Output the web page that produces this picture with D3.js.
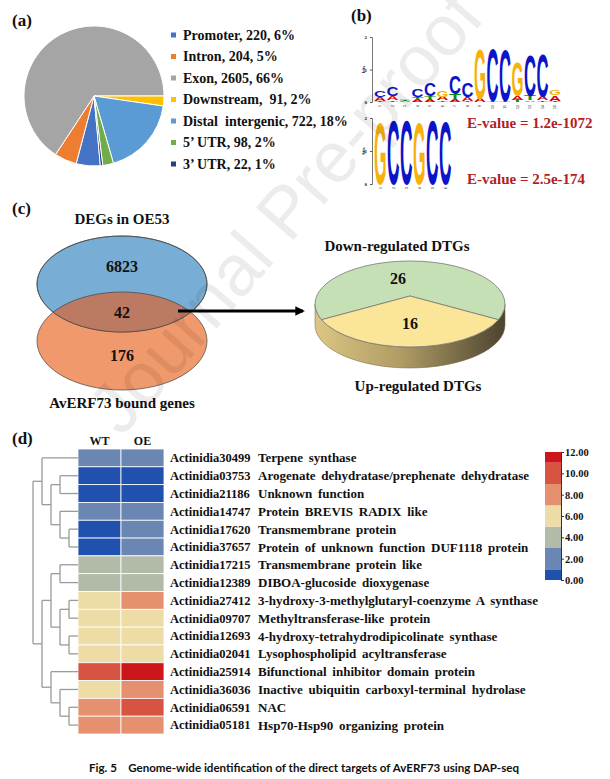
<!DOCTYPE html>
<html><head><meta charset="utf-8">
<script src="https://cdn.jsdelivr.net/npm/d3@7"></script>
<style>
body{margin:0;background:#fff}
svg{display:block}
text{font-family:"Liberation Serif","Times New Roman",serif;font-weight:bold;fill:#111}
</style>
</head><body>
<svg id="fig" width="610" height="779"></svg>
<script>
// ---------------- DATA ----------------
// (a) genomic distribution of peaks
const pieCategories = ["Promoter", "Intron", "Exon", "Downstream", "Distal  intergenic", "5\u2019 UTR", "3\u2019 UTR"];
const pieCounts = [220, 204, 2605, 91, 722, 98, 22];
const piePercents = [6, 5, 66, 2, 18, 2, 1];

// (b) motifs: per position, stacked [letter, bits] from bottom to top
const motif1 = [
  [["T",0.04],["A",0.1],["C",0.2]],
  [["T",0.05],["A",0.12],["C",0.3]],
  [["A",0.03],["T",0.03],["G",0.04]],
  [["A",0.06],["T",0.08],["C",0.24]],
  [["A",0.07],["T",0.1],["C",0.42]],
  [["T",0.05],["A",0.1],["G",0.2]],
  [["A",0.06],["T",0.18],["C",0.58]],
  [["T",0.04],["A",0.12],["C",0.44]],
  [["A",0.1],["G",1.55]],
  [["T",0.03],["C",1.66]],
  [["T",0.04],["C",1.6]],
  [["T",0.06],["A",0.12],["G",1.05]],
  [["A",0.05],["T",0.14],["C",1.26]],
  [["T",0.05],["A",0.1],["C",1.35]],
  [["T",0.03],["A",0.18],["G",0.16]]
];
const motif2 = [
  [["G",1.92]], [["C",1.97]], [["C",1.97]], [["G",1.9]], [["C",1.97]], [["C",1.95]]
];
const eValues = ["1.2e-1072", "2.5e-174"];

// (c) Venn + DTG pie
const vennSets = ["DEGs in OE53", "AvERF73 bound genes"];
const vennCounts = [6823, 42, 176];   // only DEGs, overlap, only bound
const dtgCategories = ["Down-regulated DTGs", "Up-regulated DTGs"];
const dtgCounts = [26, 16];

// (d) heatmap
const sampleNames = ["WT", "OE"];
const geneIds = ["Actinidia30499","Actinidia03753","Actinidia21186","Actinidia14747","Actinidia17620","Actinidia37657",
  "Actinidia17215","Actinidia12389","Actinidia27412","Actinidia09707","Actinidia12693","Actinidia02041",
  "Actinidia25914","Actinidia36036","Actinidia06591","Actinidia05181"];
const geneDescriptions = ["Terpene synthase","Arogenate dehydratase/prephenate dehydratase","Unknown function",
  "Protein BREVIS RADIX like","Transmembrane protein","Protein of unknown function DUF1118 protein",
  "Transmembrane protein like","DIBOA-glucoside dioxygenase","3-hydroxy-3-methylglutaryl-coenzyme A synthase",
  "Methyltransferase-like protein","4-hydroxy-tetrahydrodipicolinate synthase","Lysophospholipid acyltransferase",
  "Bifunctional inhibitor domain protein","Inactive ubiquitin carboxyl-terminal hydrolase","NAC",
  "Hsp70-Hsp90 organizing protein"];
const wtValues = [2.1, 0.5, 0.5, 2.1, 0.6, 0.6, 4.0, 4.0, 6.0, 6.0, 6.0, 6.0, 10.0, 6.0, 8.0, 8.0];
const oeValues = [2.0, 0.5, 0.5, 2.0, 2.0, 2.0, 4.0, 4.0, 8.0, 6.0, 6.0, 6.0, 11.6, 8.0, 10.0, 8.0];
const colorbarTicks = [0, 2, 4, 6, 8, 10, 12];
const colorThresholds = [1, 3, 5, 7, 9, 11];
// dendrogram (leaf = row index, h = merge height)
const dendrogram = {h:5, children:[
  {h:4, children:[{leaf:0}, {h:3, children:[
      {h:2, children:[{leaf:1},{leaf:2}]},
      {h:2, children:[{leaf:3},{h:1, children:[{leaf:4},{leaf:5}]}]}]}]},
  {h:4, children:[
      {h:3, children:[
        {h:2, children:[{leaf:6},{leaf:7}]},
        {h:2, children:[{h:1, children:[{leaf:8},{leaf:9}]},{h:1, children:[{leaf:10},{leaf:11}]}]}]},
      {h:3, children:[{leaf:12},{h:2, children:[{leaf:13},{h:1, children:[{leaf:14},{leaf:15}]}]}]}]}
]};

const caption = "Fig. 5    Genome-wide identification of the direct targets of AvERF73 using DAP-seq";

// ---------------- STYLES ----------------
const pieColors = ["#4472C4","#ED7D31","#A5A5A5","#FFC000","#5B9BD5","#70AD47","#264478"];
const letterColors = {A:"#D40000", C:"#0A14C8", G:"#F7B10A", T:"#0A8A0A"};
const glyphAdv = {A:0.722, C:0.722, G:0.778, T:0.611};
const heatColors = ["#2151AE","#6A86B3","#B2BAA8","#EEDCA6","#E5906F","#D65441","#CC161A"];

const svg = d3.select("#fig");
const serif = "'Liberation Serif','Times New Roman',serif";
const defs = svg.append("defs");

// ---------------- (a) PIE ----------------
const gA = svg.append("g");
gA.append("text").attr("x", 12).attr("y", 26).attr("font-size", 17).text("(a)");
const total = d3.sum(pieCounts);
const before = d3.sum(pieCounts.slice(0, 3)) / total * 2 * Math.PI;
const start = Math.PI / 2 - before;
const pie = d3.pie().sort(null).startAngle(start).endAngle(start + 2 * Math.PI);
const arc = d3.arc().innerRadius(0).outerRadius(70);
gA.append("g").attr("transform", "translate(94,96)")
  .selectAll("path").data(pie(pieCounts)).join("path")
  .attr("d", arc).attr("fill", (d, i) => pieColors[i])
  .attr("stroke", "#fff").attr("stroke-width", 1);
const legY = d3.scalePoint().domain(pieCategories).range([35, 164]);
const leg = gA.selectAll("g.leg").data(pieCategories).join("g").attr("class", "leg")
  .attr("transform", d => `translate(171,${legY(d)})`);
leg.append("rect").attr("x", 0).attr("y", -2.5).attr("width", 5).attr("height", 5)
  .attr("fill", (d, i) => pieColors[i]);
leg.append("text").attr("x", 12).attr("dy", "0.35em").attr("font-size", 14).style("white-space", "pre")
  .text((d, i) => `${d}, ${i === 3 ? " " : ""}${pieCounts[i]}, ${piePercents[i]}%`);

// ---------------- (b) LOGOS ----------------
const gB = svg.append("g");
gB.append("text").attr("x", 351).attr("y", 21).attr("font-size", 17).text("(b)");

function drawLogo(g, data, x0, colW, yTop, yBase) {
  const xs = d3.scaleBand().domain(d3.range(1, data.length + 1)).range([x0, x0 + colW * data.length]);
  const ys = d3.scaleLinear().domain([0, 2]).range([yBase, yTop]);
  const ax = g.append("g").attr("transform", `translate(${x0 - 2},0)`)
    .call(d3.axisLeft(ys).tickValues([0, 1, 2]).tickSize(2).tickFormat(d3.format("d")));
  ax.select(".domain").attr("stroke", "#555").attr("stroke-width", 0.8);
  ax.selectAll(".tick line").attr("stroke", "#555");
  ax.selectAll("text").attr("font-size", 5).attr("font-family", "Liberation Sans").attr("font-weight", "normal").attr("fill", "#444");
  g.append("text").attr("transform", `translate(${x0 - 9},${(yTop + yBase) / 2}) rotate(-90)`)
    .attr("text-anchor", "middle").attr("font-size", 4.5).attr("font-family", "Liberation Sans")
    .attr("font-weight", "normal").attr("fill", "#444").text("bits");
  data.forEach((stack, i) => {
    let y = ys(0);
    const x = xs(i + 1);
    stack.forEach(([L, bits]) => {
      const h = ys(0) - ys(bits);
      const w = xs.bandwidth() - 0.5;
      g.append("text").text(L)
        .attr("transform", `translate(${x},${y}) scale(${w / (glyphAdv[L] * 100)},${h / 72})`)
        .attr("font-size", 100)
        .style("font-family", "'Liberation Sans',Arial,sans-serif").style("fill", letterColors[L]);
      y -= h;
    });
    g.append("text").attr("transform", `translate(${x + xs.bandwidth() / 2 + 1},${yBase + 3}) rotate(-90)`)
      .attr("text-anchor", "end").attr("font-size", 3.5).attr("font-weight", "normal")
      .style("font-family", "'Liberation Sans',sans-serif").style("fill", "#666").text(i + 1);
  });
}
drawLogo(gB.append("g"), motif1, 374, 12.5, 37, 102);
drawLogo(gB.append("g"), motif2, 374, 13, 118, 184);
gB.selectAll("text.ev").data(eValues).join("text").attr("class", "ev")
  .attr("x", 467).attr("y", (d, i) => i === 0 ? 128 : 184)
  .attr("font-size", 15).style("fill", "#B41E22").text(d => `E-value = ${d}`);

// ---------------- (c) VENN + 3D PIE ----------------
const gC = svg.append("g");
gC.append("text").attr("x", 12).attr("y", 214).attr("font-size", 17).text("(c)");
const vx = 122, vBlueY = 284, vOrY = 341, vrx = 85, vry1 = 48, vry2 = 49;
defs.append("clipPath").attr("id", "blueClip").append("ellipse")
  .attr("cx", vx).attr("cy", vBlueY).attr("rx", vrx).attr("ry", vry1);
gC.append("ellipse").attr("cx", vx).attr("cy", vOrY).attr("rx", vrx).attr("ry", vry2)
  .attr("fill", "#F0996C").attr("stroke", "#444").attr("stroke-width", 0.7);
gC.append("ellipse").attr("cx", vx).attr("cy", vBlueY).attr("rx", vrx).attr("ry", vry1)
  .attr("fill", "#78AED5").attr("stroke", "#444").attr("stroke-width", 0.7);
gC.append("ellipse").attr("cx", vx).attr("cy", vOrY).attr("rx", vrx).attr("ry", vry2)
  .attr("clip-path", "url(#blueClip)").attr("fill", "#BC7A62").attr("stroke", "#444").attr("stroke-width", 0.7);
gC.append("ellipse").attr("cx", vx).attr("cy", vBlueY).attr("rx", vrx).attr("ry", vry1)
  .attr("fill", "none").attr("stroke", "#444").attr("stroke-width", 0.7);
gC.append("text").attr("x", vx).attr("y", 224).attr("text-anchor", "middle").attr("font-size", 15).text(vennSets[0]);
gC.append("text").attr("x", vx).attr("y", 408).attr("text-anchor", "middle").attr("font-size", 15).text(vennSets[1]);
[[vennCounts[0], 272], [vennCounts[1], 318], [vennCounts[2], 361]].forEach(([v, y]) => {
  gC.append("text").attr("x", vx).attr("y", y).attr("text-anchor", "middle").attr("font-size", 16).text(v);
});
// arrow
defs.append("marker").attr("id", "arrowHead").attr("viewBox", "0 0 10 10").attr("refX", 8).attr("refY", 5)
  .attr("markerWidth", 3.2).attr("markerHeight", 3.2).attr("orient", "auto")
  .append("path").attr("d", "M0,0 L10,5 L0,10 Z").attr("fill", "#000");
gC.append("line").attr("x1", 178).attr("y1", 311).attr("x2", 303).attr("y2", 311)
  .attr("stroke", "#000").attr("stroke-width", 3).attr("marker-end", "url(#arrowHead)");

// 3D pie (top face with perspective-shifted apex)
const pcx = 410, pcy = 304, prx = 95, pry = 43, pdepth = 21, apexY = 296;
const grad = defs.append("linearGradient").attr("id", "sideGrad").attr("x1", "0").attr("x2", "1").attr("y1", "0").attr("y2", "0");
grad.append("stop").attr("offset", "0%").attr("stop-color", "#DCC682");
grad.append("stop").attr("offset", "45%").attr("stop-color", "#B09C64");
grad.append("stop").attr("offset", "100%").attr("stop-color", "#4C4430");
gC.append("path")
  .attr("d", `M${pcx + prx},${pcy} A${prx},${pry} 0 0 1 ${pcx - prx},${pcy} L${pcx - prx},${pcy + pdepth} A${prx},${pry} 0 0 0 ${pcx + prx},${pcy + pdepth} Z`)
  .attr("fill", "url(#sideGrad)").attr("stroke", "#6a6040").attr("stroke-width", 0.5);
const half = Math.PI * dtgCounts[0] / d3.sum(dtgCounts);
const dtgPie = d3.pie().sort(null).startAngle(-half).endAngle(2 * Math.PI - half);
const rim = a => [pcx + prx * Math.sin(a), pcy - pry * Math.cos(a)];
gC.append("g").selectAll("path").data(dtgPie(dtgCounts)).join("path")
  .attr("d", d => {
    const p0 = rim(d.startAngle), p1 = rim(d.endAngle);
    const large = d.endAngle - d.startAngle > Math.PI ? 1 : 0;
    return `M${pcx},${apexY}L${p0[0]},${p0[1]}A${prx},${pry} 0 ${large} 1 ${p1[0]},${p1[1]}Z`;
  })
  .attr("fill", (d, i) => i === 0 ? "#C6E0B5" : "#FBE598")
  .attr("stroke", "#777").attr("stroke-width", 0.8).attr("stroke-linejoin", "round");
gC.append("text").attr("x", 398).attr("y", 284).attr("text-anchor", "middle").attr("font-size", 16).text(dtgCounts[0]);
gC.append("text").attr("x", 410).attr("y", 329).attr("text-anchor", "middle").attr("font-size", 16).text(dtgCounts[1]);
gC.append("text").attr("x", 397).attr("y", 251).attr("text-anchor", "middle").attr("font-size", 15).text(dtgCategories[0]);
gC.append("text").attr("x", 418).attr("y", 391).attr("text-anchor", "middle").attr("font-size", 15).text(dtgCategories[1]);

// ---------------- (d) HEATMAP ----------------
const gD = svg.append("g");
gD.append("text").attr("x", 12).attr("y", 444).attr("font-size", 17).text("(d)");
const yRow = d3.scaleBand().domain(geneIds).range([449, 734]);
const xCol = d3.scaleBand().domain(sampleNames).range([78, 164]);
const color = d3.scaleThreshold().domain(colorThresholds).range(heatColors);
const cells = [];
geneIds.forEach((g, i) => { cells.push({g, s: "WT", v: wtValues[i]}); cells.push({g, s: "OE", v: oeValues[i]}); });
gD.append("g").selectAll("rect").data(cells).join("rect")
  .attr("x", d => xCol(d.s)).attr("y", d => yRow(d.g))
  .attr("width", xCol.bandwidth()).attr("height", yRow.bandwidth())
  .attr("fill", d => color(d.v)).attr("stroke", "#fff").attr("stroke-width", 0.8);
gD.selectAll("text.samp").data(sampleNames).join("text").attr("class", "samp")
  .attr("x", d => xCol(d) + xCol.bandwidth() / 2).attr("y", 445).attr("text-anchor", "middle")
  .attr("font-size", 12).text(d => d);
gD.selectAll("text.gid").data(geneIds).join("text").attr("class", "gid")
  .attr("x", 170).attr("y", d => yRow(d) + yRow.bandwidth() / 2).attr("dy", "0.35em")
  .attr("font-size", 12.5).text(d => d);
gD.selectAll("text.gdesc").data(geneDescriptions).join("text").attr("class", "gdesc")
  .attr("x", 258).attr("y", (d, i) => yRow(geneIds[i]) + yRow.bandwidth() / 2).attr("dy", "0.35em")
  .attr("font-size", 13).style("word-spacing", "2.5px").text(d => d);

// dendrogram
const root = d3.hierarchy(dendrogram);
const xDend = d3.scaleLinear().domain([0, 5]).range([78, 33]);
root.eachAfter(n => {
  if (n.data.leaf !== undefined) { n.py = yRow(geneIds[n.data.leaf]) + yRow.bandwidth() / 2; n.px = xDend(0); }
  else {
    n.py = (n.children[0].py + n.children[n.children.length - 1].py) / 2;
    n.px = xDend(n.data.h);
  }
});
const dendG = gD.append("g").attr("fill", "none").attr("stroke", "#9a9a9a").attr("stroke-width", 1.3);
root.each(n => {
  if (!n.children) return;
  const ys = n.children.map(c => c.py);
  dendG.append("path").attr("d", `M${n.px},${d3.min(ys)}V${d3.max(ys)}`);
  n.children.forEach(c => dendG.append("path").attr("d", `M${n.px},${c.py}H${c.px}`));
});

// colorbar
const yBar = d3.scaleLinear().domain([0, 12]).range([580, 452]);
const bandEdges = [0, ...colorThresholds, 12];
gD.append("g").selectAll("rect").data(heatColors).join("rect")
  .attr("x", 545).attr("width", 16)
  .attr("y", (d, i) => yBar(bandEdges[i + 1])).attr("height", (d, i) => yBar(bandEdges[i]) - yBar(bandEdges[i + 1]))
  .attr("fill", d => d);
const cb = gD.append("g").attr("transform", "translate(561,0)")
  .call(d3.axisRight(yBar).tickValues(colorbarTicks).tickSize(3).tickFormat(d3.format(".2f")));
cb.select(".domain").attr("stroke", "#333");
cb.selectAll(".tick line").attr("stroke", "#333");
cb.selectAll("text").attr("font-size", 10.5).attr("font-family", serif).attr("font-weight", "bold").attr("fill", "#111").attr("x", 4);

// caption
svg.append("text").attr("x", 89).attr("y", 772).attr("font-size", 12)
  .style("font-family", "Lato,'Open Sans',sans-serif").style("white-space", "pre")
  .attr("textLength", 430).attr("lengthAdjust", "spacingAndGlyphs").text(caption);

// watermark
svg.append("text").attr("transform", "translate(304,228) rotate(-49)").attr("text-anchor", "middle")
  .attr("font-size", 72).style("font-family", "'Liberation Sans',Arial,sans-serif").style("font-weight", "normal")
  .style("fill", "#000").style("opacity", 0.07).text("Journal Pre-proof");
</script>
</body></html>
